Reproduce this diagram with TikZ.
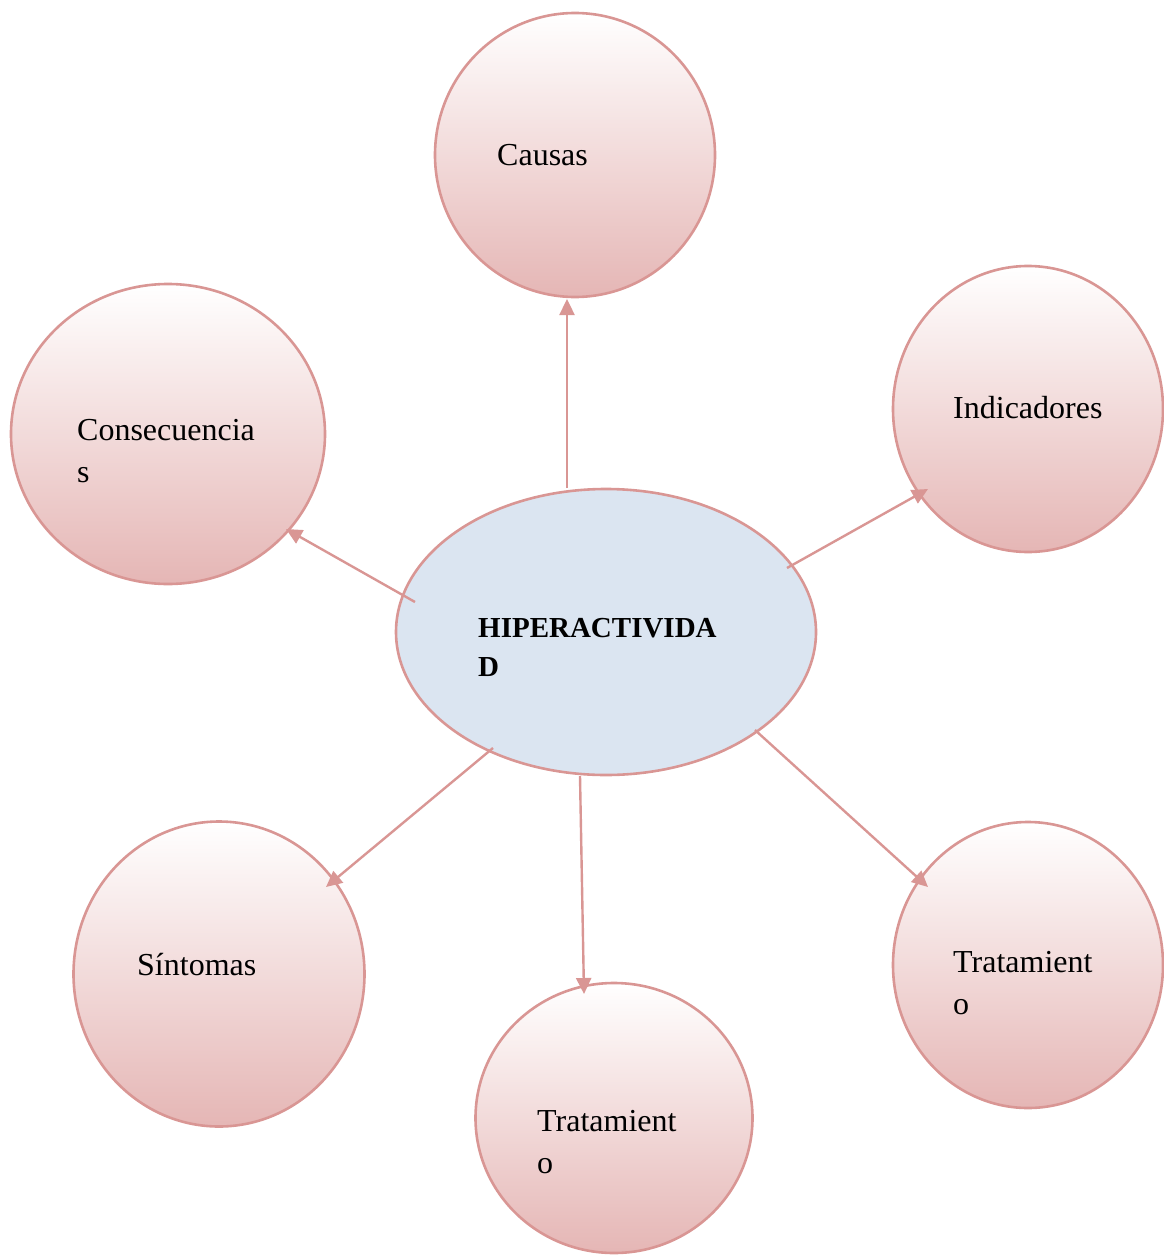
\documentclass[tikz,border=0pt]{standalone}
\usepackage{fontspec}
\setmainfont{Liberation Serif}
\usetikzlibrary{shapes.geometric,arrows.meta}
\definecolor{pinkline}{RGB}{217,150,148}
\definecolor{pinkbot}{RGB}{229,182,181}
\definecolor{bluefill}{RGB}{219,229,241}
\tikzset{
  bubble/.style={ellipse,draw=pinkline,line width=2.6pt,top color=white,bottom color=pinkbot,inner sep=0pt},
  hub/.style={ellipse,draw=pinkline,line width=2.6pt,fill=bluefill,inner sep=0pt},
  lbl/.style={anchor=base west,inner sep=0pt,font=\fontsize{32}{42}\selectfont,align=left},
  conn/.style={draw=pinkline,line width=2.4pt,-{Triangle[length=16pt,width=15pt]}}
}
\begin{document}
\begin{tikzpicture}[x=1pt,y=-1pt]
\useasboundingbox (0,0) rectangle (1164,1255);
\node[hub,minimum width=420pt,minimum height=286pt] (hub) at (606,632) {};
\node[bubble,minimum width=280pt,minimum height=284pt] (causas) at (575,155) {};
\node[bubble,minimum width=270pt,minimum height=286pt] (indic) at (1028,409) {};
\node[bubble,minimum width=314pt,minimum height=300pt] (conse) at (168,434) {};
\node[bubble,minimum width=291pt,minimum height=305pt] (sint) at (219,974) {};
\node[bubble,minimum width=277pt,minimum height=270pt] (trab) at (614,1118) {};
\node[bubble,minimum width=270pt,minimum height=286pt] (trar) at (1028,965) {};

\node[lbl] (tcausas) at (497,165) {Causas};
\node[lbl] (tindic) at (953,418) {Indicadores};
\node[lbl,anchor=north west] (tconse) at (77,419) {Consecuencia\\s};
\node[lbl] (tsint) at (137,975) {Síntomas};
\node[lbl,anchor=north west] (ttrar) at (953,951) {Tratamient\\o};
\node[lbl,anchor=north west] (ttrab) at (537,1110) {Tratamient\\o};
\node[lbl,anchor=north west,font=\bfseries\fontsize{29}{39}\selectfont] (thub) at (478,618) {HIPERACTIVIDA\\D};

\coordinate (s1) at (567,488); \coordinate (e1) at (567,299);
\coordinate (s2) at (787,568); \coordinate (e2) at (928,489);
\coordinate (s3) at (415,602); \coordinate (e3) at (286,529);
\coordinate (s4) at (493,748); \coordinate (e4) at (326,887);
\coordinate (s5) at (580,776); \coordinate (e5) at (584,994);
\coordinate (s6) at (755,730); \coordinate (e6) at (928,887);
\draw[conn] (s1) -- (e1);
\draw[conn] (s2) -- (e2);
\draw[conn] (s3) -- (e3);
\draw[conn] (s4) -- (e4);
\draw[conn] (s5) -- (e5);
\draw[conn] (s6) -- (e6);
\end{tikzpicture}
\end{document}
